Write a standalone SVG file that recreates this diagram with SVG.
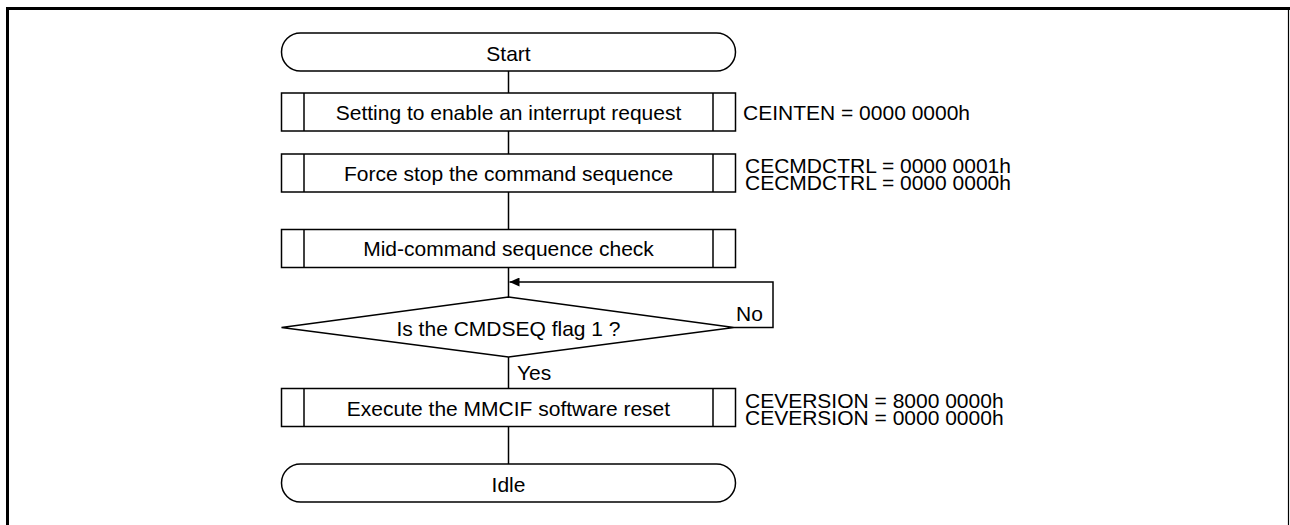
<svg xmlns="http://www.w3.org/2000/svg" width="1290" height="525" viewBox="0 0 1290 525">
<style>
.s{fill:#fff;stroke:#000;stroke-width:1.5}
.l{fill:none;stroke:#000;stroke-width:1.5}
.t{font-family:"Liberation Sans",Arial,sans-serif;font-size:21px;fill:#000}
.c{text-anchor:middle}
</style>
<defs>
<marker id="ah" markerWidth="10" markerHeight="9" refX="10" refY="4.5" orient="auto" markerUnits="userSpaceOnUse">
<path d="M0,0 L10,4.5 L0,9 Z" fill="#000"/>
</marker>
</defs>
<rect width="1290" height="525" fill="#fff"/>
<g id="frame">
<path d="M7.5,525 V8.5 H1290" fill="none" stroke="#000" stroke-width="3"/>
<line x1="1288.5" y1="8" x2="1288.5" y2="525" stroke="#000" stroke-width="1.2"/>
</g>
<g id="connectors">
<line class="l" x1="508.5" y1="71" x2="508.5" y2="93"/>
<line class="l" x1="508.5" y1="131" x2="508.5" y2="154"/>
<line class="l" x1="508.5" y1="192" x2="508.5" y2="229"/>
<line class="l" x1="508.5" y1="268" x2="508.5" y2="297"/>
<path class="l" d="M734,327.5 H773 V282 H509.5" marker-end="url(#ah)"/>
<line class="l" x1="508.5" y1="357" x2="508.5" y2="388"/>
<line class="l" x1="508.5" y1="427" x2="508.5" y2="464"/>
<text class="t" x="736" y="321">No</text>
<text class="t" x="517" y="380">Yes</text>
</g>
<g id="start">
<rect class="s" x="281.5" y="33" width="454" height="38" rx="19" ry="19"/>
<text class="t c" x="508.5" y="60.5">Start</text>
</g>
<g id="p1">
<rect class="s" x="281.5" y="93" width="454" height="38"/>
<line class="l" x1="304" y1="93" x2="304" y2="131"/>
<line class="l" x1="713" y1="93" x2="713" y2="131"/>
<text class="t c" x="508.5" y="120">Setting to enable an interrupt request</text>
<text class="t" x="743" y="119.5">CEINTEN = 0000 0000h</text>
</g>
<g id="p2">
<rect class="s" x="281.5" y="154" width="454" height="38"/>
<line class="l" x1="304" y1="154" x2="304" y2="192"/>
<line class="l" x1="713" y1="154" x2="713" y2="192"/>
<text class="t c" x="508.5" y="181">Force stop the command sequence</text>
<text class="t" x="745" y="172.5">CECMDCTRL = 0000 0001h</text>
<text class="t" x="745" y="189.5">CECMDCTRL = 0000 0000h</text>
</g>
<g id="p3">
<rect class="s" x="281.5" y="229.5" width="454" height="38"/>
<line class="l" x1="304" y1="229.5" x2="304" y2="267.5"/>
<line class="l" x1="713" y1="229.5" x2="713" y2="267.5"/>
<text class="t c" x="508.5" y="256">Mid-command sequence check</text>
</g>
<g id="d1">
<polygon class="s" points="508.5,297 734,327.5 508.5,357 281.5,327.5"/>
<text class="t c" x="508.5" y="336">Is the CMDSEQ flag 1 ?</text>
</g>
<g id="p4">
<rect class="s" x="281.5" y="388.5" width="454" height="38"/>
<line class="l" x1="304" y1="388.5" x2="304" y2="426.5"/>
<line class="l" x1="713" y1="388.5" x2="713" y2="426.5"/>
<text class="t c" x="508.5" y="416">Execute the MMCIF software reset</text>
<text class="t" x="745" y="408">CEVERSION = 8000 0000h</text>
<text class="t" x="745" y="425">CEVERSION = 0000 0000h</text>
</g>
<g id="idle">
<rect class="s" x="281.5" y="464" width="454" height="38" rx="19" ry="19"/>
<text class="t c" x="508.5" y="491.5">Idle</text>
</g>
</svg>
